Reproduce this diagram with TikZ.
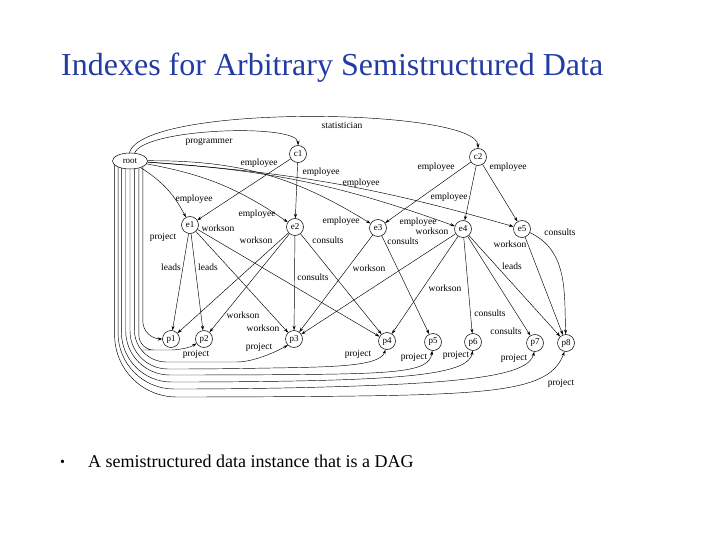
\documentclass[tikz,border=0pt]{standalone}
\usepackage{fontspec}
\setmainfont{Liberation Serif}
\usetikzlibrary{shapes.geometric,arrows.meta}
\definecolor{titleblue}{RGB}{35,60,165}

\begin{document}
\begin{tikzpicture}[x=1pt, y=1pt,
    obj/.style={draw, circle, minimum size=17pt, inner sep=0pt, line width=0.5pt, font=\fontsize{9}{9}\selectfont},
    rootobj/.style={draw, ellipse, minimum width=35pt, minimum height=16pt, inner sep=0pt, line width=0.5pt, font=\fontsize{9}{9}\selectfont},
    edge/.style={line width=0.45pt, -{Stealth[length=4.5pt, width=3pt]}},
    lbl/.style={inner sep=0pt, font=\fontsize{9.5}{9.5}\selectfont}]
            \useasboundingbox (0,0) rectangle (720,-540);

            \node[anchor=base west, inner sep=0pt, text=titleblue, font=\fontsize{32}{38}\selectfont] (title) at (61,-76) {Indexes for Arbitrary Semistructured Data};
            \node[anchor=base west, inner sep=0pt, font=\fontsize{14}{16}\selectfont] (dot) at (60,-466) {\textbullet};
            \node[anchor=base west, inner sep=0pt, font=\fontsize{18}{22}\selectfont] (caption) at (88,-467) {A semistructured data instance that is a DAG};

            % objects of the instance
            \node[rootobj] (root) at (130,-161) {root};
            \node[obj] (c1) at (298,-154) {c1};
            \node[obj] (c2) at (478,-157) {c2};
            \node[obj] (e1) at (190,-225) {e1};
            \node[obj] (e2) at (295,-227) {e2};
            \node[obj] (e3) at (378,-228) {e3};
            \node[obj] (e4) at (463,-229) {e4};
            \node[obj] (e5) at (522,-229) {e5};
            \node[obj] (p1) at (171,-339) {p1};
            \node[obj] (p2) at (204,-339) {p2};
            \node[obj] (p3) at (294,-339) {p3};
            \node[obj] (p4) at (387,-341) {p4};
            \node[obj] (p5) at (433,-342) {p5};
            \node[obj] (p6) at (473,-342) {p6};
            \node[obj] (p7) at (535,-343) {p7};
            \node[obj] (p8) at (566,-343) {p8};

            \draw[edge] (root.60) .. controls +(10,25) and +(0,22) .. (c1.north);
            \draw[edge] (root.95) .. controls +(15,50) and +(0,40) .. (c2.north);
            \node[lbl] (lprog) at (209,-142) {programmer};
            \node[lbl] (lstat) at (342,-125) {statistician};

            \draw[edge] (root) to[bend left=15] (e1);
            \draw[edge] (root) to[bend left=12] (e2);
            \draw[edge] (root) to[bend left=16] (e3);
            \draw[edge] (root) to[bend left=8] (e4);
            \draw[edge] (root) to[bend left=6] (e5);
            \draw[edge] (c1) -- (e1);
            \draw[edge] (c1) -- (e2);
            \draw[edge] (c2) -- (e3);
            \draw[edge] (c2) -- (e4);
            \draw[edge] (c2) -- (e5);
            \node[lbl] (lemp1) at (194,-199) {employee};
            \node[lbl] (lemp2) at (259,-163) {employee};
            \node[lbl] (lemp3) at (321,-172) {employee};
            \node[lbl] (lemp4) at (361,-183) {employee};
            \node[lbl] (lemp5) at (257,-214) {employee};
            \node[lbl] (lemp6) at (341,-221) {employee};
            \node[lbl] (lemp7) at (418,-222) {employee};
            \node[lbl] (lemp8) at (436,-167) {employee};
            \node[lbl] (lemp9) at (449,-197) {employee};
            \node[lbl] (lemp10) at (508,-167) {employee};

            % employees to projects
            \draw[edge] (e1) -- (p1);
            \draw[edge] (e1) -- (p2);
            \draw[edge] (e1) -- (p3);
            \draw[edge] (e1) -- (p4);
            \draw[edge] (e2) -- (p1);
            \draw[edge] (e2) -- (p2);
            \draw[edge] (e2) -- (p3);
            \draw[edge] (e2) -- (p4);
            \draw[edge] (e3) -- (p3);
            \draw[edge] (e3) -- (p5);
            \draw[edge] (e4) -- (p3);
            \draw[edge] (e4) -- (p4);
            \draw[edge] (e4) -- (p6);
            \draw[edge] (e4) -- (p7);
            \draw[edge] (e4) -- (p8);
            \draw[edge] (e5) -- (p8);
            \draw[edge] (e5) to[out=-25, in=92] (p8);
            \node[lbl] (llead1) at (171,-267) {leads};
            \node[lbl] (llead2) at (208,-267) {leads};
            \node[lbl] (llead3) at (512,-266) {leads};
            \node[lbl] (lwork1) at (218,-228) {workson};
            \node[lbl] (lwork2) at (256,-240) {workson};
            \node[lbl] (lwork3) at (243,-315) {workson};
            \node[lbl] (lwork4) at (263,-328) {workson};
            \node[lbl] (lwork5) at (369,-268) {workson};
            \node[lbl] (lwork6) at (432,-231) {workson};
            \node[lbl] (lwork7) at (445,-288) {workson};
            \node[lbl] (lwork8) at (510,-244) {workson};
            \node[lbl] (lcons1) at (328,-240) {consults};
            \node[lbl] (lcons2) at (313,-277) {consults};
            \node[lbl] (lcons3) at (403,-241) {consults};
            \node[lbl] (lcons4) at (490,-313) {consults};
            \node[lbl] (lcons5) at (506,-331) {consults};
            \node[lbl] (lcons6) at (560,-232) {consults};

            % root to projects, bundled down the left side
            \draw[edge, rounded corners=18pt] (root.-24.5) |- (p1.west);
            \draw[edge, rounded corners=15pt] (root.-39.8) |- (157,-350) .. controls +(14,0) and +(-9,-6) .. (p2.-150);
            \draw[edge, rounded corners=32pt] (root.-61.3) |- (205,-362) .. controls +(45,0) and +(-18,-10) .. (p3.-135);
            \draw[edge, rounded corners=38pt] (root.-90) |- (215,-369) .. controls +(110,2) and +(-6,-18) .. (p4.-100);
            \draw[edge, rounded corners=44pt] (root.-118.7) |- (225,-375) .. controls +(170,1) and +(-3,-22) .. (p5.-95);
            \draw[edge, rounded corners=50pt] (root.-140.2) |- (235,-382) .. controls +(180,3) and +(-4,-22) .. (p6.-92);
            \draw[edge, rounded corners=56pt] (root.-153.8) |- (240,-389) .. controls +(220,5) and +(-6,-25) .. (p7.-95);
            \draw[edge, rounded corners=62pt] (root.-165.6) |- (245,-397) .. controls +(250,2) and +(-15,-40) .. (p8.-100);
            \node[lbl] (lproj1) at (163,-237) {project};
            \node[lbl] (lproj2) at (196,-354) {project};
            \node[lbl] (lproj3) at (259,-347) {project};
            \node[lbl] (lproj4) at (358,-354) {project};
            \node[lbl] (lproj5) at (414,-357) {project};
            \node[lbl] (lproj6) at (456,-355) {project};
            \node[lbl] (lproj7) at (514,-358) {project};
            \node[lbl] (lproj8) at (561,-383) {project};
        \end{tikzpicture}
\end{document}
